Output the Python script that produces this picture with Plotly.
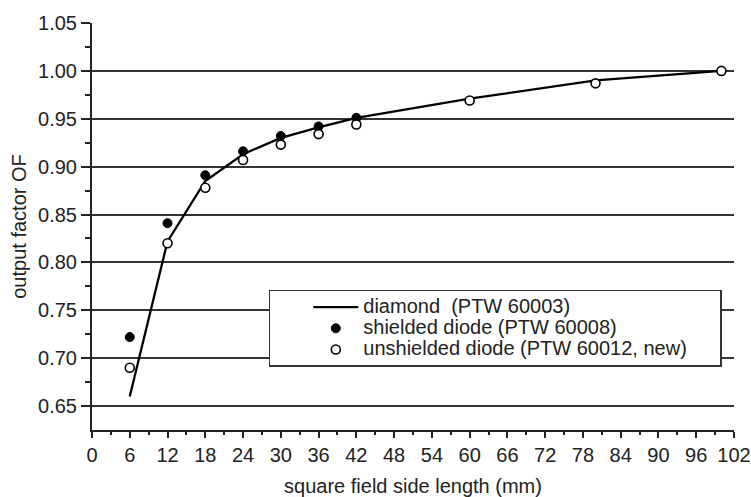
import plotly.graph_objects as go

# ---- data ----
diamond_mm = [6, 12, 18, 24, 30, 36, 42, 60, 80, 100]
diamond_of = [0.660, 0.822, 0.885, 0.913, 0.930, 0.941, 0.951, 0.971, 0.990, 1.000]

shielded_mm = [6, 12, 18, 24, 30, 36, 42]
shielded_of = [0.722, 0.841, 0.891, 0.916, 0.932, 0.942, 0.951]

unshielded_mm = [6, 12, 18, 24, 30, 36, 42, 60, 80, 100]
unshielded_of = [0.690, 0.820, 0.878, 0.907, 0.923, 0.934, 0.944, 0.969, 0.987, 1.000]

series_names = ["diamond  (PTW 60003)",
                "shielded diode (PTW 60008)",
                "unshielded diode (PTW 60012, new)"]

x_ticks = list(range(0, 103, 6))
x_minor = list(range(3, 103, 6))
y_ticks = [0.65, 0.70, 0.75, 0.80, 0.85, 0.90, 0.95, 1.00, 1.05]
y_grid = [0.65, 0.70, 0.75, 0.80, 0.85, 0.90, 0.95, 1.00]
y_minor = [0.675, 0.725, 0.775, 0.825, 0.875, 0.925, 0.975, 1.025]

FONT = "Liberation Sans, Arial, sans-serif"
TXT = "#222222"
FS = 20


def legend_label(s, pad=0):
    return '<span style="font-size:%dpx">%s%s</span>' % (FS, s, "\u00a0" * pad)


fig = go.Figure()
fig.add_trace(go.Scatter(
    x=diamond_mm, y=diamond_of, mode="lines",
    name=legend_label(series_names[0]),
    line=dict(color="black", width=2.3),
))
fig.add_trace(go.Scatter(
    x=shielded_mm, y=shielded_of, mode="markers",
    name=legend_label(series_names[1]),
    marker=dict(symbol="circle", size=9, color="black", line=dict(color="black", width=1)),
))
fig.add_trace(go.Scatter(
    x=unshielded_mm, y=unshielded_of, mode="markers",
    name=legend_label(series_names[2], pad=5),
    marker=dict(symbol="circle", size=9, color="white", line=dict(color="black", width=1.6)),
))
# carrier for the labelled axis
fig.add_trace(go.Scatter(x=[], y=[], yaxis="y2", showlegend=False, hoverinfo="skip"))

fig.update_layout(
    width=751, height=497,
    margin=dict(l=92, r=17, t=23, b=67),
    paper_bgcolor="white", plot_bgcolor="white",
    font=dict(family=FONT, size=FS, color=TXT),
    showlegend=True,
    legend=dict(
        x=0.2757, y=0.344, xanchor="left", yanchor="top",
        bgcolor="white", bordercolor="#333333", borderwidth=1.5,
        font=dict(family=FONT, size=14, color=TXT),
        title=dict(text="\u00a0" * 5, side="left", font=dict(family=FONT, size=FS)),
        itemwidth=45, tracegroupgap=0,
    ),
    xaxis=dict(
        range=[0, 102], tickmode="array", tickvals=x_ticks, automargin=False,
        ticks="outside", ticklen=6, tickwidth=2, tickcolor="#222",
        showline=True, linecolor="#222", linewidth=2,
        showgrid=False, zeroline=False,
        minor=dict(tickmode="array", tickvals=x_minor, ticks="outside", ticklen=3,
                   tickwidth=2, tickcolor="#222", showgrid=False),
        tickfont=dict(family=FONT, size=FS, color=TXT),
        title=dict(text="square field side length (mm)", standoff=18,
                   font=dict(family=FONT, size=FS, color=TXT)),
    ),
    yaxis=dict(
        range=[0.625, 1.05], tickmode="array", tickvals=y_grid, automargin=False,
        showticklabels=False, ticks="",
        showgrid=True, gridcolor="#333333", gridwidth=1.6,
        showline=False, zeroline=False,
    ),
    yaxis2=dict(
        overlaying="y", anchor="x", side="left", automargin=False,
        range=[0.625, 1.05], tickmode="array", tickvals=y_ticks,
        ticktext=["%.2f" % v for v in y_ticks],
        ticks="outside", ticklen=9, tickwidth=2, tickcolor="#222",
        showline=True, linecolor="#222", linewidth=2,
        showgrid=False, zeroline=False,
        minor=dict(tickmode="array", tickvals=y_minor, ticks="outside", ticklen=5,
                   tickwidth=2, tickcolor="#222", showgrid=False),
        tickfont=dict(family=FONT, size=FS, color=TXT),
        title=dict(text="output factor OF", standoff=6,
                   font=dict(family=FONT, size=FS, color=TXT)),
    ),
)

fig.write_html(
    "out.html",
    config={"displayModeBar": False},
    post_script="document.body.style.margin='0px';document.body.style.overflow='hidden';",
)
